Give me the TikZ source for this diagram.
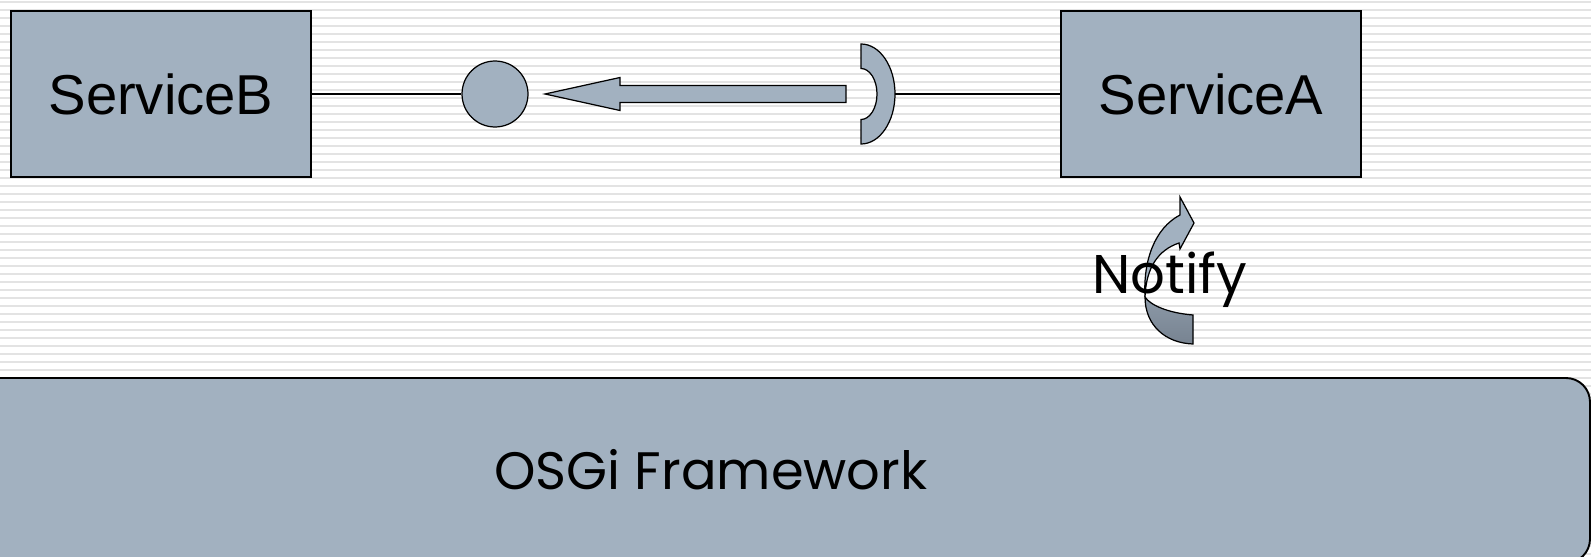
\documentclass[tikz,border=0pt]{standalone}
\usepackage{fontspec}
\setmainfont{Liberation Sans}
\newfontfamily\handfont{Poppins}
\usepackage{tikz}
\usetikzlibrary{calc}

\definecolor{boxgray}{HTML}{A2B1C0}
\definecolor{arrowtop}{HTML}{8C99A7}
\definecolor{arrowbottom}{HTML}{778391}
\definecolor{stripe}{HTML}{E3E3E3}

\begin{document}
\begin{tikzpicture}[x=0.02cm, y=-0.02cm,
    service/.style={draw=black, line width=0.7pt, fill=boxgray, minimum width=6cm,
        minimum height=3.32cm, inner sep=0pt, font=\fontsize{32}{36}\selectfont},
    wire/.style={black, line width=0.7pt},
    part/.style={draw=black, line width=0.7pt, fill=boxgray}]
    % Setup
    \useasboundingbox (0,0) rectangle (1591,557);
    \fill[white] (0,0) rectangle (1591,557);
    \foreach \y in {2,10,...,557} {
        \draw[stripe, line width=1.1pt] (0,\y) -- (1591,\y);
    }

    % Services
    \node[service] (serviceB) at (161,94) {ServiceB};
    \node[service] (serviceA) at (1211,94) {ServiceA};

    % Provided interface (ball)
    \node[part, circle, minimum size=1.32cm, inner sep=0pt] (ball) at (495,94) {};

    % Required interface (socket)
    \coordinate (socket) at (895,94);
    \draw[part] (861,44) .. controls (879.8,44) and (895,66.4) .. (895,94)
        .. controls (895,121.6) and (879.8,144) .. (861,144) -- (861,119.5)
        .. controls (869.8,119.5) and (877,108.1) .. (877,94)
        .. controls (877,79.9) and (869.8,68.5) .. (861,68.5) -- cycle;

    \draw[wire] (serviceB) -- (ball);
    \draw[wire] (socket) -- (serviceA);

    % Block arrow (socket to ball)
    \draw[part] (846,85.5) -- (620,85.5) -- (620,77.5) -- (545,94) -- (620,110.5)
        -- (620,102.5) -- (846,102.5) -- cycle;

    % Notify arrow
    \draw[part, top color=arrowtop, bottom color=arrowbottom] (1193,344)
        .. controls (1165,343) and (1145,325) .. (1145,297)
        .. controls (1150,305) and (1168,313) .. (1193,315) -- cycle;
    \draw[part] (1145,297) .. controls (1143,260) and (1155,228) .. (1180,215)
        -- (1180,197) -- (1194,223) -- (1180,249) -- (1179,243)
        .. controls (1158,250) and (1146,268) .. (1145,297) -- cycle;
    \node[font=\handfont\fontsize{31}{36}\selectfont, anchor=base, inner sep=0pt] (notify) at (1170,293) {Notify};

    % Framework
    \draw[part, line width=1.1pt, rounded corners=0.48cm] (-30,378) rectangle (1590,563);
    \node[font=\handfont\fontsize{30}{36}\selectfont, anchor=base, inner sep=0pt] (osgi) at (711,489) {OSGi Framework};
\end{tikzpicture}
\end{document}
